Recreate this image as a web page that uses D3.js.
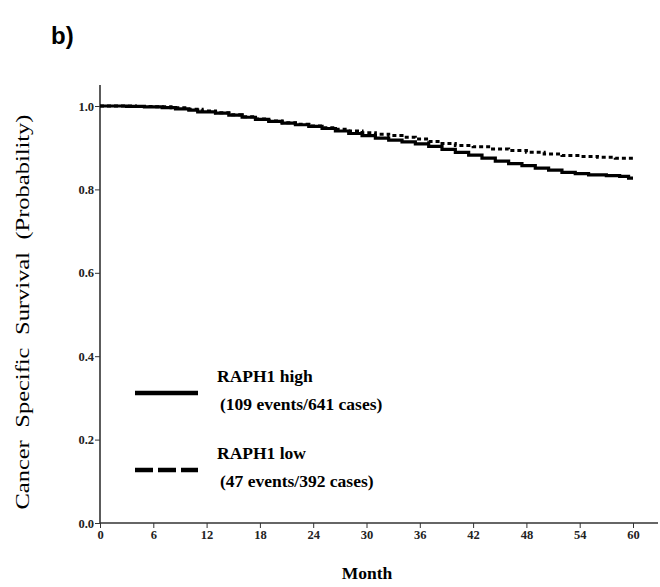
<!DOCTYPE html>
<html>
<head>
<meta charset="utf-8">
<script src="https://cdn.jsdelivr.net/npm/d3@7"></script>
<style>
  body { margin: 0; background: #fff; }
  svg { display: block; }
  .tick text { font-family: "Liberation Serif", "Times New Roman", serif; font-weight: bold; font-size: 12.5px; fill: #222; }
  .axis path, .axis line { stroke: #333; }
</style>
</head>
<body>
<div id="vis"></div>
<script>
// months / survival probability (Kaplan-Meier steps)
const highMonths = [0, 3, 5, 7, 8.5, 10, 11, 13, 14.5, 16, 17.5, 19, 20.5, 22, 23.5, 25, 26.5, 28, 29.5, 31, 32.5, 34, 35.5, 37, 38.5, 40, 41.5, 43, 44.5, 46, 47.5, 49, 50.5, 52, 53.5, 55, 57, 58.5, 59.5, 60];
const highSurv   = [1.0, 0.999, 0.998, 0.996, 0.993, 0.990, 0.986, 0.983, 0.978, 0.973, 0.968, 0.963, 0.959, 0.955, 0.951, 0.946, 0.940, 0.934, 0.929, 0.923, 0.918, 0.914, 0.909, 0.903, 0.896, 0.889, 0.882, 0.875, 0.868, 0.862, 0.857, 0.851, 0.846, 0.841, 0.838, 0.835, 0.833, 0.831, 0.827, 0.827];

const lowMonths = [0, 4, 6, 8, 10, 11.5, 13, 14.5, 16, 17.5, 19, 20.5, 22, 23.5, 25, 26.5, 28, 29.5, 31, 32.5, 34, 35.5, 37, 38.5, 40, 42, 44, 46, 48, 50, 52, 54, 56, 58, 60];
const lowSurv   = [1.0, 0.999, 0.998, 0.996, 0.992, 0.988, 0.984, 0.979, 0.974, 0.969, 0.964, 0.960, 0.956, 0.952, 0.948, 0.944, 0.940, 0.936, 0.932, 0.929, 0.925, 0.921, 0.915, 0.910, 0.905, 0.902, 0.897, 0.893, 0.889, 0.885, 0.881, 0.879, 0.877, 0.875, 0.874];

const xTicks = [0, 6, 12, 18, 24, 30, 36, 42, 48, 54, 60];
const yTicks = [0.0, 0.2, 0.4, 0.6, 0.8, 1.0];

const legendTitles = ["RAPH1 high", "RAPH1 low"];
const legendNotes = ["(109 events/641 cases)", "(47 events/392 cases)"];

const width = 660, height = 587;

let svg = d3.select("#vis")
  .append("svg")
  .attr("width", width)
  .attr("height", height);

let x_scale = d3.scaleLinear().domain([0, 60]).range([100, 633]);
let y_scale = d3.scaleLinear().domain([0, 1]).range([523, 106]);

// axis lines (extend past the data range like the original)
svg.append("line")
  .attr("x1", x_scale(0)).attr("x2", 658)
  .attr("y1", y_scale(0)).attr("y2", y_scale(0))
  .attr("stroke", "#333").attr("stroke-width", 1.6);
svg.append("line")
  .attr("x1", x_scale(0)).attr("x2", x_scale(0))
  .attr("y1", y_scale(0)).attr("y2", 85)
  .attr("stroke", "#333").attr("stroke-width", 1.6);

let xAxis = d3.axisBottom(x_scale)
  .tickValues(xTicks)
  .tickSize(5)
  .tickPadding(2)
  .tickFormat(d => d);

svg.append("g")
  .attr("class", "axis xAxis")
  .attr("transform", `translate(0, ${y_scale(0)})`)
  .call(xAxis)
  .call(g => g.select(".domain").remove());

let yAxis = d3.axisLeft(y_scale)
  .tickValues(yTicks)
  .tickSize(5)
  .tickPadding(1)
  .tickFormat(d3.format(".1f"));

svg.append("g")
  .attr("class", "axis yAxis")
  .attr("transform", `translate(${x_scale(0)}, 0)`)
  .call(yAxis)
  .call(g => g.select(".domain").remove());

// curves
const highData = highMonths.map((m, i) => ({ m: m, s: highSurv[i] }));
const lowData = lowMonths.map((m, i) => ({ m: m, s: lowSurv[i] }));

let line = d3.line()
  .x(d => x_scale(d.m))
  .y(d => y_scale(d.s))
  .curve(d3.curveStepAfter);

svg.append("path")
  .datum(lowData)
  .attr("d", line)
  .attr("fill", "none")
  .attr("stroke", "#000")
  .attr("stroke-width", 3)
  .attr("stroke-dasharray", "4,3");

svg.append("path")
  .datum(highData)
  .attr("d", line)
  .attr("fill", "none")
  .attr("stroke", "#000")
  .attr("stroke-width", 3.2);

// legend
const serif = "'Liberation Serif', 'Times New Roman', serif";
const legendY = [393, 470];
legendY.forEach((ly, i) => {
  svg.append("line")
    .attr("x1", 135).attr("x2", 198)
    .attr("y1", ly).attr("y2", ly)
    .attr("stroke", "#000")
    .attr("stroke-width", 4.5)
    .attr("stroke-dasharray", i === 1 ? "18,5" : null);
  svg.append("text")
    .attr("x", 217).attr("y", ly - 11)
    .style("font-family", serif)
    .style("font-weight", "bold")
    .style("font-size", "17.5px")
    .text(legendTitles[i]);
  svg.append("text")
    .attr("x", 220).attr("y", ly + 17)
    .style("font-family", serif)
    .style("font-weight", "bold")
    .style("font-size", "17.5px")
    .text(legendNotes[i]);
});

// axis titles
svg.append("text")
  .attr("x", 367).attr("y", 579)
  .attr("text-anchor", "middle")
  .style("font-family", serif)
  .style("font-weight", "bold")
  .style("font-size", "17.5px")
  .text("Month");

svg.append("text")
  .attr("transform", "translate(29, 312) rotate(-90)")
  .attr("text-anchor", "middle")
  .attr("textLength", 395)
  .attr("lengthAdjust", "spacingAndGlyphs")
  .style("font-family", serif)
  .style("font-size", "19px")
  .style("word-spacing", "5px")
  .text("Cancer Specific Survival (Probability)");

// panel letter
svg.append("text")
  .attr("x", 51).attr("y", 44)
  .style("font-family", "'Liberation Sans', Arial, sans-serif")
  .style("font-weight", "bold")
  .style("font-size", "24px")
  .text("b)");
</script>
</body>
</html>
